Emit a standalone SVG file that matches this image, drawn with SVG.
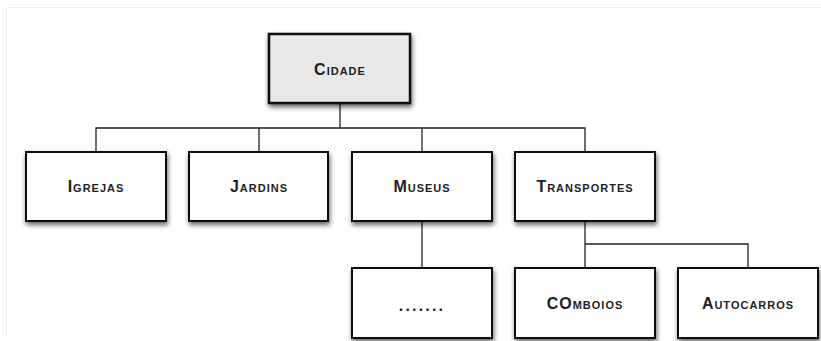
<svg xmlns="http://www.w3.org/2000/svg" width="821" height="341" viewBox="0 0 821 341">
  <defs>
    <filter id="shadow" x="-10%" y="-10%" width="125%" height="140%">
      <feDropShadow dx="1" dy="3" stdDeviation="2.5" flood-color="#000" flood-opacity="0.6"/>
    </filter>
  </defs>
  <style>
    .box { fill: #ffffff; stroke: #111; stroke-width: 2; filter: url(#shadow); }
    .root { fill: #e8e8e8; stroke-width: 2.5; }
    .label { font-family: "Liberation Sans", Arial, sans-serif; font-weight: bold; font-size: 16px; font-variant: small-caps; letter-spacing: 1px; fill: #1e1e1e; text-anchor: middle; dominant-baseline: central; }
    .dots { letter-spacing: 2.2px; }
    .link { fill: none; stroke: #222; stroke-width: 1.3; }
  </style>
  <rect width="821" height="341" fill="#ffffff"/>
  <path d="M6.5 337 V7.5 H821" fill="none" stroke="#eeeeee" stroke-width="1"/>

  <g id="connectors">
    <path class="link" d="M340 104 V128 M96 151 V128 H585 V151 M259 128 V151 M422 128 V151"/>
    <path class="link" d="M422 221 V267"/>
    <path class="link" d="M585 221 V267 M585 244 H748 V267"/>
  </g>

  <g id="cidade">
    <rect class="box root" x="269" y="34" width="141" height="69"/>
    <text class="label" x="340" y="69.5">Cidade</text>
  </g>
  <g id="igrejas">
    <rect class="box" x="26" y="152" width="140" height="69"/>
    <text class="label" x="96" y="186.5">Igrejas</text>
  </g>
  <g id="jardins">
    <rect class="box" x="189" y="152" width="139" height="69"/>
    <text class="label" x="259" y="186.5">Jardins</text>
  </g>
  <g id="museus">
    <rect class="box" x="352" y="152" width="140" height="69"/>
    <text class="label" x="422" y="186.5">Museus</text>
  </g>
  <g id="transportes">
    <rect class="box" x="515" y="152" width="140" height="69"/>
    <text class="label" x="585" y="186.5">Transportes</text>
  </g>
  <g id="outros">
    <rect class="box" x="352" y="268" width="140" height="70"/>
    <text class="label dots" x="422" y="305">.......</text>
  </g>
  <g id="comboios">
    <rect class="box" x="515" y="268" width="140" height="70"/>
    <text class="label" x="585" y="303">COmboios</text>
  </g>
  <g id="autocarros">
    <rect class="box" x="678" y="268" width="140" height="70"/>
    <text class="label" x="748" y="303">Autocarros</text>
  </g>
</svg>
